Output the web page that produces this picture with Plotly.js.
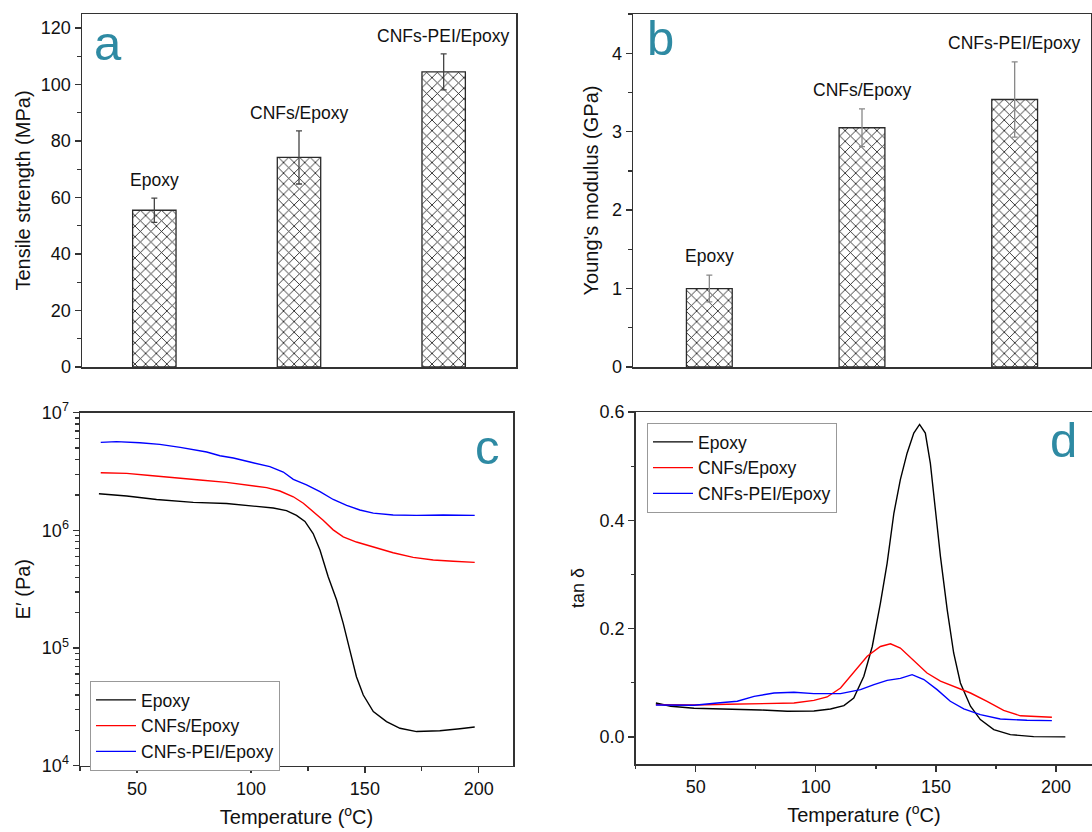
<!DOCTYPE html>
<html>
<head>
<meta charset="utf-8">
<script src="https://cdn.plot.ly/plotly-3.0.1.min.js"></script>
<style>html,body{margin:0;padding:0;background:#fff;}#chart{width:1092px;height:832px;}</style>
</head>
<body>
<div id="chart"></div>
<script>
// ---- data ----
const categories = ["Epoxy", "CNFs/Epoxy", "CNFs-PEI/Epoxy"];
const tensileStrength = [55.5, 74.2, 104.5];
const tensileErr = [4.3, 9.4, 6.4];
const youngsModulus = [1.0, 3.05, 3.41];
const youngsErr = [0.17, 0.24, 0.48];

const seriesNames = ["Epoxy", "CNFs/Epoxy", "CNFs-PEI/Epoxy"];

// storage modulus E' (Pa)
const tE_epoxy = [33.3,45.5,58.6,74.7,89.3,101,109.8,115.6,120,123.7,127.3,130.3,133.9,137.6,140.5,143.4,146.3,149.3,153.7,159.5,165.4,172.7,182.9,191.7,198.2];
const E_epoxy = [2.05e6,1.96e6,1.83e6,1.73e6,1.69e6,1.62e6,1.55e6,1.47e6,1.34e6,1.19e6,9.4e5,6.8e5,4.04e5,2.56e5,1.62e5,9.6e4,5.7e4,3.99e4,2.88e4,2.37e4,2.08e4,1.95e4,1.98e4,2.06e4,2.13e4];
const tE_cnf = [34.1,45.5,55.7,67.4,77.6,89.3,99.6,106.9,112.7,118.6,123,127.3,131.7,136.1,140.5,146.3,153.7,162.4,171.2,180,188.8,198.2];
const E_cnf = [3.09e6,3.05e6,2.93e6,2.78e6,2.68e6,2.56e6,2.43e6,2.31e6,2.16e6,1.93e6,1.70e6,1.45e6,1.22e6,1.01e6,8.8e5,7.96e5,7.27e5,6.46e5,5.9e5,5.6e5,5.46e5,5.35e5];
const tE_pei = [34.1,41,51.3,60,69,74.7,80.6,86.4,92.3,99.6,108.3,114.2,118.6,124.4,130.3,136.1,142,147.8,153.7,162.4,172.7,184.4,198.2];
const E_pei = [5.6e6,5.68e6,5.56e6,5.38e6,5.07e6,4.88e6,4.63e6,4.31e6,4.12e6,3.81e6,3.48e6,3.13e6,2.71e6,2.44e6,2.13e6,1.83e6,1.63e6,1.49e6,1.40e6,1.35e6,1.34e6,1.35e6,1.34e6];

// tan delta
const tD_epoxy = [33.4,39.6,49.3,63.2,77,88.1,99.2,106.1,111.7,115.8,120,123.5,126.9,129.7,132.5,135.2,138,140.8,143.2,145.6,147.7,149.8,151.9,154.7,157.4,160.2,164.4,168.5,174.1,181,190.7,203.9];
const D_epoxy = [0.0627,0.0566,0.0529,0.0516,0.0498,0.0473,0.048,0.0516,0.0578,0.072,0.112,0.167,0.247,0.321,0.413,0.475,0.524,0.561,0.577,0.561,0.505,0.419,0.333,0.235,0.155,0.0996,0.0566,0.032,0.0135,0.0043,0.0006,0.0];
const tD_cnf = [33.4,49.3,63.2,77,90.9,99.2,104.7,110.3,115.8,121.4,126.9,131.1,135.2,140.8,146.3,151.9,157.4,164.4,171.3,178.2,185.2,198.3];
const D_cnf = [0.0596,0.059,0.0602,0.0609,0.0627,0.0676,0.0738,0.0904,0.119,0.149,0.167,0.172,0.164,0.140,0.118,0.103,0.0934,0.0811,0.0658,0.049,0.039,0.0363];
const tD_pei = [33.4,49.3,59,67.3,74.3,82.6,90.9,99.2,110.3,118.6,124.2,129.7,135.2,140.1,145,150.5,156,161.6,168.5,176.8,187.9,198.3];
const D_pei = [0.059,0.0584,0.0627,0.0658,0.075,0.0811,0.0824,0.0799,0.0799,0.0873,0.0965,0.1045,0.108,0.115,0.106,0.0873,0.0658,0.0516,0.0412,0.0332,0.0307,0.0301];

const tickLabelsLog = ["10<sup>4</sup>", "10<sup>5</sup>", "10<sup>6</sup>", "10<sup>7</sup>"];
const tickValsLog = [1e4, 1e5, 1e6, 1e7];

// ---- styling ----
const W = 1092, H = 832;
const FONT = "Liberation Sans, Arial, sans-serif";
const AX = "#333";
const LETTER = "#2e8aa3";
const lineColors = ["#000000", "#ff0000", "#0000ff"];

function dx(a, b) { return [a / W, b / W]; }
function dy(top, bottom) { return [1 - bottom / H, 1 - top / H]; }

const barMarker = {
  color: "#ffffff",
  line: { color: "#2a2a2a", width: 1.3 },
  pattern: { shape: "x", fgcolor: "#222", bgcolor: "#ffffff", size: 7.5, solidity: 0.22 }
};

const traces = [
  {
    type: "bar", x: categories, y: tensileStrength, xaxis: "x", yaxis: "y",
    width: 0.3, marker: barMarker, showlegend: false,
    error_y: { type: "data", array: tensileErr, visible: true, color: "#444", thickness: 1.3, width: 3 }
  },
  {
    type: "bar", x: categories, y: youngsModulus, xaxis: "x2", yaxis: "y2",
    width: 0.3, marker: barMarker, showlegend: false,
    error_y: { type: "data", array: youngsErr, visible: true, color: "#888", thickness: 1.3, width: 3 }
  },
  { type: "scatter", mode: "lines", x: tE_epoxy, y: E_epoxy, name: seriesNames[0], xaxis: "x3", yaxis: "y3", line: { color: lineColors[0], width: 1.4 }, legend: "legend" },
  { type: "scatter", mode: "lines", x: tE_cnf, y: E_cnf, name: seriesNames[1], xaxis: "x3", yaxis: "y3", line: { color: lineColors[1], width: 1.4 }, legend: "legend" },
  { type: "scatter", mode: "lines", x: tE_pei, y: E_pei, name: seriesNames[2], xaxis: "x3", yaxis: "y3", line: { color: lineColors[2], width: 1.4 }, legend: "legend" },
  { type: "scatter", mode: "lines", x: tD_epoxy, y: D_epoxy, name: seriesNames[0], xaxis: "x4", yaxis: "y4", line: { color: lineColors[0], width: 1.4 }, legend: "legend2" },
  { type: "scatter", mode: "lines", x: tD_cnf, y: D_cnf, name: seriesNames[1], xaxis: "x4", yaxis: "y4", line: { color: lineColors[1], width: 1.4 }, legend: "legend2" },
  { type: "scatter", mode: "lines", x: tD_pei, y: D_pei, name: seriesNames[2], xaxis: "x4", yaxis: "y4", line: { color: lineColors[2], width: 1.4 }, legend: "legend2" }
];

const tickFont = { family: FONT, size: 18, color: "#111" };
const titleFont = { family: FONT, size: 20, color: "#111" };

function baseAxis(extra) {
  return Object.assign({
    showline: true, linecolor: AX, linewidth: 1.5, mirror: true,
    showgrid: false, zeroline: false, ticks: "outside", ticklen: 6, tickwidth: 1.3, tickcolor: AX,
    tickfont: tickFont
  }, extra);
}

const annotations = [];
// bar labels
categories.forEach((c, i) => {
  annotations.push({ x: c, y: tensileStrength[i] + tensileErr[i], xref: "x", yref: "y", text: c, showarrow: false,
    yanchor: "middle", yshift: 18, font: { family: FONT, size: 17.5, color: "#111" } });
  annotations.push({ x: c, y: youngsModulus[i] + youngsErr[i], xref: "x2", yref: "y2", text: c, showarrow: false,
    yanchor: "middle", yshift: 19, font: { family: FONT, size: 17.5, color: "#111" } });
});
// panel letters
[["a", 108, 43], ["b", 660, 38], ["c", 487, 447], ["d", 1063, 440]].forEach(p => {
  annotations.push({ x: p[1] / W, y: 1 - p[2] / H, xref: "paper", yref: "paper", text: p[0], showarrow: false,
    xanchor: "center", yanchor: "middle", font: { family: FONT, size: 49, color: LETTER } });
});

const legendBase = { xanchor: "left", yanchor: "top", bgcolor: "#fff",
  bordercolor: "#999", borderwidth: 1, font: { family: FONT, size: 17.5, color: "#111" }, tracegroupgap: 0, itemwidth: 40 };

const layout = {
  width: W, height: H,
  margin: { l: 0, r: 0, t: 0, b: 0 },
  paper_bgcolor: "#fff", plot_bgcolor: "#fff",
  font: { family: FONT, color: "#111" },
  bargap: 0,
  xaxis: baseAxis({ domain: dx(82, 516), anchor: "y", range: [-0.5, 2.5], type: "category", ticks: "", showticklabels: false }),
  yaxis: baseAxis({ domain: dy(14, 367), anchor: "x", range: [0, 125], dtick: 20, tick0: 0,
    minor: { ticks: "outside", ticklen: 3.5, dtick: 10, tickcolor: AX },
    title: { text: "Tensile strength (MPa)", font: titleFont, standoff: 5 } }),
  xaxis2: baseAxis({ domain: dx(633, 1091), anchor: "y2", range: [-0.5, 2.5], type: "category", ticks: "", showticklabels: false }),
  yaxis2: baseAxis({ domain: dy(14, 367), anchor: "x2", range: [0, 4.5], dtick: 1, tick0: 0,
    minor: { ticks: "outside", ticklen: 3.5, dtick: 0.5, tickcolor: AX },
    title: { text: "Young's modulus (GPa)", font: titleFont, standoff: 8 } }),
  xaxis3: baseAxis({ domain: dx(80, 513), anchor: "y3", range: [25, 215], dtick: 50, tick0: 0,
    minor: { ticks: "outside", ticklen: 3.5, dtick: 25, tickcolor: AX },
    title: { text: "Temperature (<sup>o</sup>C)", font: titleFont, standoff: 12 } }),
  yaxis3: baseAxis({ domain: dy(412.7, 765.7), anchor: "x3", type: "log", range: [4, 7],
    tickvals: tickValsLog, ticktext: tickLabelsLog,
    minor: { ticks: "outside", ticklen: 3.5, dtick: "D1", tickcolor: AX },
    title: { text: "E′ (Pa)", font: titleFont, standoff: 6 } }),
  xaxis4: baseAxis({ domain: dx(635.7, 1092), anchor: "y4", range: [25, 215], dtick: 50, tick0: 0,
    minor: { ticks: "outside", ticklen: 3.5, dtick: 25, tickcolor: AX },
    title: { text: "Temperature (<sup>o</sup>C)", font: titleFont, standoff: 12 } }),
  yaxis4: baseAxis({ domain: dy(412, 764), anchor: "x4", range: [-0.05, 0.6], dtick: 0.2, tick0: 0, tickformat: ".1f",
    minor: { ticks: "outside", ticklen: 3.5, dtick: 0.1, tickcolor: AX },
    title: { text: "tan δ", font: { family: FONT, size: 18, color: "#111" }, standoff: 10 } }),
  legend: Object.assign({ x: 90 / W, y: 1 - 681 / H }, legendBase),
  legend2: Object.assign({ x: 647 / W, y: 1 - 423 / H }, legendBase),
  annotations: annotations
};

Plotly.newPlot("chart", traces, layout, { staticPlot: true, displayModeBar: false });
</script>
</body>
</html>
